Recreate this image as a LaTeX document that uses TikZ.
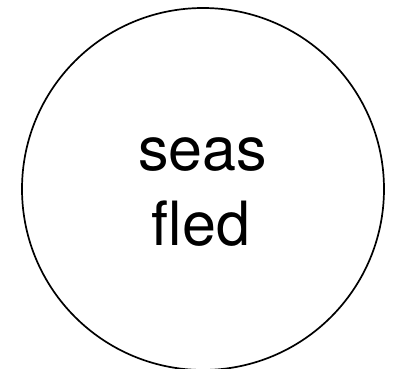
\documentclass[tikz,border=0pt]{standalone}
\usepackage{fontspec}
\setmainfont{TeX Gyre Heros}
\begin{document}
\begin{tikzpicture}[x=1pt,y=1pt,
  ring/.style={draw=black,line width=1.7pt,circle,minimum size=362pt,inner sep=0pt},
  word/.style={anchor=base,inner sep=0pt,font=\fontsize{61}{73}\selectfont}]
\useasboundingbox (0,0) rectangle (396,368);
\node[ring] (c) at (203,179) {};
\node[word] (seas) at (202.5,198) {seas};
\node[word] (fled) at (201,123) {fled};
\end{tikzpicture}
\end{document}
